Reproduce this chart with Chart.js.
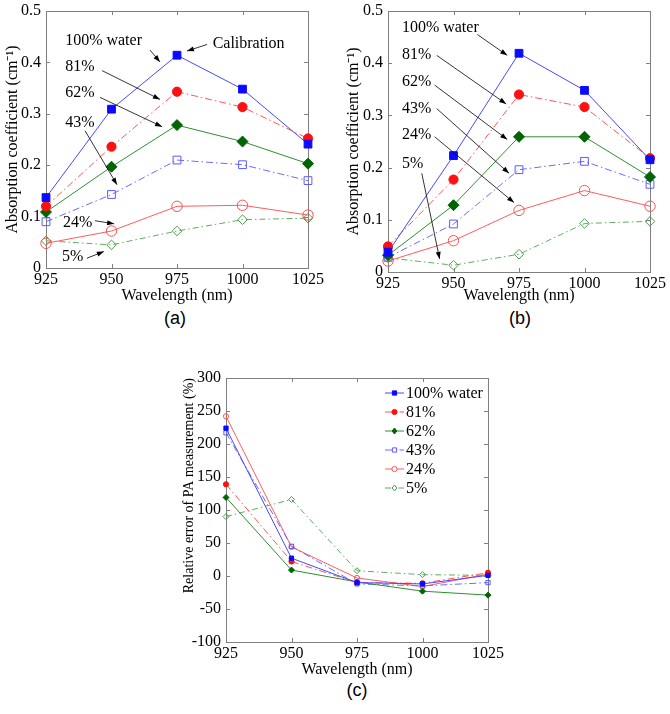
<!DOCTYPE html>
<html>
<head>
<meta charset="utf-8">
<script src="https://cdn.jsdelivr.net/npm/chart.js"></script>
<style>
	body { margin: 0; background: #fff; }
	#page { position: relative; width: 670px; height: 714px; background: #fff; }
	canvas { position: absolute; }
	.tag { position: absolute; font: 18px "Liberation Sans", Arial, sans-serif; color: #000; width: 60px; text-align: center; }
</style>
</head>
<body>
<div id="page">
	<canvas id="chartA" width="335" height="305" style="left:0;top:0"></canvas>
	<canvas id="chartB" width="335" height="305" style="left:335px;top:0"></canvas>
	<canvas id="chartC" width="380" height="340" style="left:140px;top:340px"></canvas>
	<div class="tag" style="left:145px;top:308px">(a)</div>
	<div class="tag" style="left:490px;top:308px">(b)</div>
	<div class="tag" style="left:327px;top:680px">(c)</div>
</div>
<script>
var wavelengths = [925, 950, 975, 1000, 1025];
var seriesNames = ['100% water', '81%', '62%', '43%', '24%', '5%'];

// (a) absorption coefficient, cm^-1
var absA100 = [0.137, 0.309, 0.414, 0.348, 0.241];
var absA81 = [0.120, 0.236, 0.343, 0.313, 0.252];
var absA62 = [0.109, 0.197, 0.278, 0.246, 0.203];
var absA43 = [0.090, 0.143, 0.210, 0.201, 0.170];
var absA24 = [0.048, 0.072, 0.120, 0.122, 0.103];
var absA5 = [0.053, 0.045, 0.072, 0.094, 0.097];

// (b) absorption coefficient, cm^-1
var absB100 = [0.038, 0.223, 0.419, 0.348, 0.215];
var absB81 = [0.049, 0.177, 0.340, 0.316, 0.218];
var absB62 = [0.032, 0.128, 0.259, 0.259, 0.182];
var absB43 = [0.028, 0.092, 0.196, 0.212, 0.168];
var absB24 = [0.021, 0.060, 0.118, 0.156, 0.126];
var absB5 = [0.027, 0.013, 0.034, 0.093, 0.097];

// (c) relative error, %
var err100 = [224, 27, -10, -12, 1];
var err81 = [139, 22, -10, -11, 5];
var err62 = [119, 9, -9, -23, -29];
var err43 = [217, 45, -12, -15, -10];
var err24 = [242, 44, -3, -16, 3];
var err5 = [90, 116, 8, 2, 1];

var absTicks = [0, 0.1, 0.2, 0.3, 0.4, 0.5];
var errTicks = [-100, -50, 0, 50, 100, 150, 200, 250, 300];

var serif = '"Liberation Serif", "Times New Roman", serif';

var seriesStyles = [
	{ line: '#4848ff', marker: '#0a0aff', shape: 'rect', filled: true, dash: [], r: 5.5, rs: 3 },
	{ line: '#ff5555', marker: '#ff1010', shape: 'circle', filled: true, dash: [7, 3, 1.5, 3], r: 4.6, rs: 2.6 },
	{ line: '#2f8f2f', marker: '#006400', shape: 'rectRot', filled: true, dash: [], r: 5.5, rs: 3 },
	{ line: '#6a6aff', marker: '#5a5aff', shape: 'rect', filled: false, dash: [7, 3, 1.5, 3], r: 5.5, rs: 3 },
	{ line: '#ff5c5c', marker: '#ff5050', shape: 'circle', filled: false, dash: [], r: 5.2, rs: 2.6 },
	{ line: '#5cae5c', marker: '#4a9e4a', shape: 'rectRot', filled: false, dash: [6, 3, 1.5, 3], r: 4.8, rs: 3 }
];

function makeSets(series, big) {
	return series.map(function(vals, i) {
		var st = seriesStyles[i];
		return {
			label: seriesNames[i],
			data: vals.map(function(v, j) { return { x: wavelengths[j], y: v }; }),
			borderColor: st.line,
			borderWidth: 1,
			borderDash: st.dash,
			pointStyle: st.shape,
			pointRadius: big ? st.r : st.rs,
			pointHoverRadius: big ? st.r : st.rs,
			pointBorderColor: st.marker,
			pointBackgroundColor: st.filled ? st.marker : 'rgba(255,255,255,0)',
			pointBorderWidth: 1,
			tension: 0,
			clip: false
		};
	});
}

function drawMarker(ctx, shape, x, y, r) {
	ctx.beginPath();
	if (shape === 'circle') {
		ctx.arc(x, y, r, 0, Math.PI * 2);
	} else if (shape === 'rect') {
		var s = r * Math.SQRT1_2;
		ctx.rect(x - s, y - s, 2 * s, 2 * s);
	} else {
		ctx.moveTo(x, y - r); ctx.lineTo(x + r * 0.8, y); ctx.lineTo(x, y + r); ctx.lineTo(x - r * 0.8, y);
		ctx.closePath();
	}
	ctx.fill();
	ctx.stroke();
}

function arrow(ctx, x1, y1, x2, y2) {
	var a = Math.atan2(y2 - y1, x2 - x1);
	ctx.beginPath();
	ctx.moveTo(x1, y1);
	ctx.lineTo(x2, y2);
	ctx.stroke();
	ctx.beginPath();
	ctx.moveTo(x2, y2);
	ctx.lineTo(x2 - 7 * Math.cos(a) + 2.5 * Math.sin(a), y2 - 7 * Math.sin(a) - 2.5 * Math.cos(a));
	ctx.lineTo(x2 - 7 * Math.cos(a) - 2.5 * Math.sin(a), y2 - 7 * Math.sin(a) + 2.5 * Math.cos(a));
	ctx.closePath();
	ctx.fill();
}

// box around the plot, inward ticks, callout labels and the legend of (c)
var framePlugin = {
	id: 'frame',
	beforeDatasetsDraw: function(chart) {
		var ctx = chart.ctx, area = chart.chartArea;
		var xs = chart.scales.x, ys = chart.scales.y;
		ctx.save();
		ctx.strokeStyle = '#808080';
		ctx.lineWidth = 1;
		ctx.strokeRect(Math.round(area.left) + 0.5, Math.round(area.top) + 0.5,
			Math.round(area.right - area.left), Math.round(area.bottom - area.top));
		ctx.beginPath();
		xs.ticks.forEach(function(t) {
			var px = Math.round(xs.getPixelForValue(t.value)) + 0.5;
			ctx.moveTo(px, area.bottom); ctx.lineTo(px, area.bottom - 4);
			ctx.moveTo(px, area.top); ctx.lineTo(px, area.top + 4);
		});
		ys.ticks.forEach(function(t) {
			var py = Math.round(ys.getPixelForValue(t.value)) + 0.5;
			ctx.moveTo(area.left, py); ctx.lineTo(area.left + 4, py);
			ctx.moveTo(area.right, py); ctx.lineTo(area.right - 4, py);
		});
		ctx.stroke();
		ctx.restore();
	},
	afterDatasetsDraw: function(chart, args, opts) {
		var ctx = chart.ctx, area = chart.chartArea;
		var xs = chart.scales.x, ys = chart.scales.y;
		ctx.save();
		ctx.font = '16px ' + serif;
		ctx.textBaseline = 'middle';
		ctx.textAlign = 'left';
		ctx.fillStyle = '#000';
		ctx.strokeStyle = '#000';
		ctx.lineWidth = 0.8;
		(opts.notes || []).forEach(function(n) {
			ctx.fillText(n.text, xs.getPixelForValue(n.at[0]), ys.getPixelForValue(n.at[1]));
			arrow(ctx, xs.getPixelForValue(n.from[0]), ys.getPixelForValue(n.from[1]),
				xs.getPixelForValue(n.to[0]), ys.getPixelForValue(n.to[1]));
		});
		if (opts.legend) {
			var lx = area.right - 103, ly = area.top + 15;
			chart.data.datasets.forEach(function(ds, i) {
				var y = ly + i * 19;
				var st = seriesStyles[i];
				ctx.strokeStyle = ds.borderColor;
				ctx.lineWidth = 1;
				ctx.setLineDash(ds.borderDash);
				ctx.beginPath();
				ctx.moveTo(lx, y); ctx.lineTo(lx + 19, y);
				ctx.stroke();
				ctx.setLineDash([]);
				ctx.strokeStyle = st.marker;
				ctx.fillStyle = st.filled ? st.marker : '#fff';
				drawMarker(ctx, st.shape, lx + 9.5, y, st.rs);
				ctx.fillStyle = '#000';
				ctx.fillText(ds.label, lx + 21, y + 1);
			});
		}
		ctx.restore();
	}
};

function axes(yTicks, yTitle, fit) {
	return {
		x: {
			type: 'linear',
			min: 925,
			max: 1025,
			afterBuildTicks: function(s) { s.ticks = wavelengths.map(function(v) { return { value: v }; }); },
			afterFit: function(s) { s.height = fit.xh; },
			grid: { display: false, drawTicks: false },
			border: { display: false },
			ticks: { color: '#000', padding: 4, font: { family: serif, size: 16, lineHeight: 1 },
				callback: function(v) { return String(v); } },
			title: { display: true, text: 'Wavelength (nm)', color: '#000',
				padding: { top: 0, bottom: fit.xpad }, font: { family: serif, size: 16, lineHeight: 1 } }
		},
		y: {
			min: yTicks[0],
			max: yTicks[yTicks.length - 1],
			afterBuildTicks: function(s) { s.ticks = yTicks.map(function(v) { return { value: v }; }); },
			afterFit: function(s) { s.width = fit.yw; },
			grid: { display: false, drawTicks: false },
			border: { display: false },
			ticks: { color: '#000', padding: 5, font: { family: serif, size: 16, lineHeight: 0.75 },
				callback: fit.fmt },
			title: { display: true, text: yTitle, color: '#000', align: fit.yalign,
				padding: { top: fit.ypad, bottom: 0 }, font: { family: serif, size: fit.ysize, lineHeight: 1 } }
		}
	};
}

function absFmt(v) { return v === 0 ? '0' : v.toFixed(1); }
function errFmt(v) { return String(v); }

(function() {
	var ctx = document.getElementById('chartA').getContext('2d');
	// callouts placed in data units: text anchor, arrow tail, arrow head
	var notes = [
		{ text: '100% water', at: [932.3, 0.443], from: [964.7, 0.424], to: [968.5, 0.401] },
		{ text: 'Calibration', at: [988.6, 0.437], from: [986.5, 0.435], to: [978.8, 0.422] },
		{ text: '81%', at: [932.3, 0.391], from: [946.4, 0.384], to: [968.5, 0.328] },
		{ text: '62%', at: [932.3, 0.340], from: [945.6, 0.332], to: [969.3, 0.275] },
		{ text: '43%', at: [932.3, 0.282], from: [939.9, 0.267], to: [952.1, 0.162] },
		{ text: '24%', at: [931.5, 0.088], from: [943.7, 0.092], to: [951.0, 0.086] },
		{ text: '5%', at: [931.1, 0.021], from: [940.6, 0.019], to: [947.1, 0.032] }
	];
	new Chart(ctx, {
		type: 'line',
		data: { datasets: makeSets([absA100, absA81, absA62, absA43, absA24, absA5], true) },
		options: {
			responsive: false,
			animation: false,
			devicePixelRatio: 1,
			layout: { padding: { left: 0, top: 6, right: 27, bottom: 0 } },
			scales: axes(absTicks, 'Absorption coefficient (cm\u207B\u00B9)',
				{ xh: 37, xpad: 1, yw: 46, ypad: 5, ysize: 16, yalign: 'center', fmt: absFmt }),
			plugins: { legend: { display: false }, tooltip: { enabled: false }, frame: { notes: notes } }
		},
		plugins: [framePlugin]
	});
})();

(function() {
	var ctx = document.getElementById('chartB').getContext('2d');
	var notes = [
		{ text: '100% water', at: [930.3, 0.468], from: [959.1, 0.455], to: [970.5, 0.415] },
		{ text: '81%', at: [930.3, 0.417], from: [943.6, 0.415], to: [970.1, 0.322] },
		{ text: '62%', at: [930.3, 0.364], from: [942.8, 0.358], to: [970.5, 0.254] },
		{ text: '43%', at: [930.3, 0.313], from: [943.6, 0.313], to: [971.2, 0.189] },
		{ text: '24%', at: [930.3, 0.263], from: [942.8, 0.259], to: [973.1, 0.133] },
		{ text: '5%', at: [930.3, 0.208], from: [937.9, 0.189], to: [944.7, 0.025] }
	];
	new Chart(ctx, {
		type: 'line',
		data: { datasets: makeSets([absB100, absB81, absB62, absB43, absB24, absB5], true) },
		options: {
			responsive: false,
			animation: false,
			devicePixelRatio: 1,
			layout: { padding: { left: 0, top: 8, right: 18, bottom: 0 } },
			scales: axes(absTicks, 'Absorption coefficient (cm\u207B\u00B9)',
				{ xh: 33, xpad: 1, yw: 53, ypad: 11, ysize: 16, yalign: 'center', fmt: absFmt }),
			plugins: { legend: { display: false }, tooltip: { enabled: false }, frame: { notes: notes } }
		},
		plugins: [framePlugin]
	});
})();

(function() {
	var ctx = document.getElementById('chartC').getContext('2d');
	new Chart(ctx, {
		type: 'line',
		data: { datasets: makeSets([err100, err81, err62, err43, err24, err5], false) },
		options: {
			responsive: false,
			animation: false,
			devicePixelRatio: 1,
			layout: { padding: { left: 0, top: 38, right: 32, bottom: 0 } },
			scales: axes(errTicks, 'Relative error of PA measurement (%)',
				{ xh: 38, xpad: 2, yw: 86, ypad: 42, ysize: 14, yalign: 'end', fmt: errFmt }),
			plugins: { legend: { display: false }, tooltip: { enabled: false }, frame: { legend: true } }
		},
		plugins: [framePlugin]
	});
})();
</script>
</body>
</html>
